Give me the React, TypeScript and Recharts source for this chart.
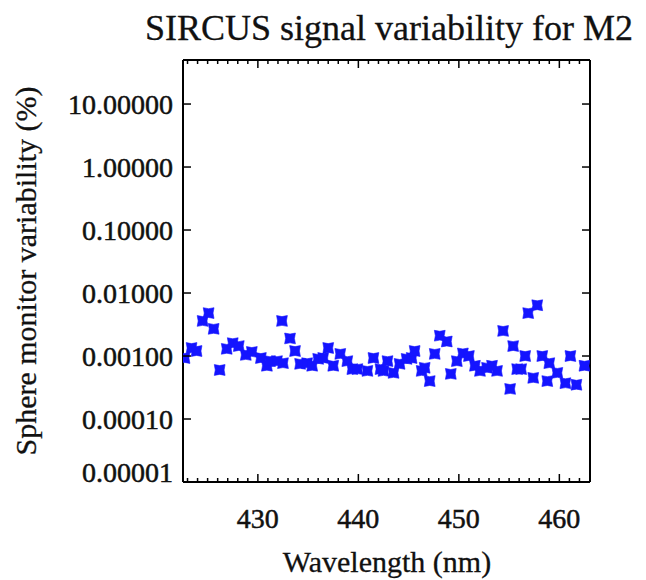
import React from "react";
import { ScatterChart, Scatter, XAxis, YAxis } from "recharts";

const wavelength = [
  422.7, 423.4, 423.9, 424.5, 425.1, 425.6, 426.2, 426.9, 427.5, 428.1,
  428.8, 429.4, 430.3, 430.9, 431.2, 431.9, 432.4, 432.5, 433.2, 433.7,
  434.2, 434.9, 435.4, 436.0, 436.5, 437.0, 437.5, 438.2, 438.9, 439.4,
  439.9, 440.9, 441.5, 442.2, 442.5, 442.9, 443.5, 444.1, 444.8, 445.3,
  445.6, 446.3, 446.6, 447.1, 447.6, 448.1, 448.8, 449.2, 449.8, 450.4,
  451.0, 451.6, 452.1, 452.8, 453.3, 453.8, 454.4, 455.1, 455.4, 455.8,
  456.2, 456.6, 456.9, 457.4, 457.8, 458.3, 458.8, 459.0, 459.8, 460.6,
  461.1, 461.7, 462.5,
];

const variability = [
  0.00093, 0.00134, 0.0012, 0.0036, 0.0048, 0.0027, 0.0006, 0.0013, 0.0016, 0.00144,
  0.00104, 0.00116, 0.00093, 0.0007, 0.00083, 0.00083, 0.0036, 0.00077, 0.0019, 0.0012,
  0.00075, 0.00077, 0.0007, 0.0009, 0.00093, 0.00134, 0.0007, 0.00108, 0.00083, 0.00062,
  0.00062, 0.00058, 0.00093, 0.00062, 0.00058, 0.00083, 0.00054, 0.00075, 0.0009, 0.00093,
  0.0012, 0.00058, 0.00065, 0.0004, 0.00108, 0.0021, 0.0017, 0.00052, 0.00083, 0.0011,
  0.001, 0.0007, 0.00058, 0.00065, 0.0007, 0.00058, 0.0025, 0.0003, 0.00144, 0.00062,
  0.00062, 0.001, 0.0048, 0.00045, 0.0064, 0.001, 0.0004, 0.00077, 0.00054, 0.00037,
  0.001, 0.00035, 0.0007,
];

const xTicks = [
  423, 424, 425, 426, 427, 428, 429, 430, 431, 432, 433, 434, 435, 436, 437, 438, 439, 440,
  441, 442, 443, 444, 445, 446, 447, 448, 449, 450, 451, 452, 453, 454, 455, 456, 457, 458,
  459, 460, 461, 462,
];
const xLabelTicks = [430, 440, 450, 460];
const yTicks = [0.00001, 0.0001, 0.001, 0.01, 0.1, 1, 10];

const title = "SIRCUS signal variability for M2";
const xTitle = "Wavelength (nm)";
const yTitle = "Sphere monitor variability (%)";

const data = wavelength.map((w, i) => ({ x: w, y: variability[i] }));

const FONT = "Liberation Serif, Tinos, Times New Roman, DejaVu Serif, serif";
const BLUE = "#1414ff";
const TXT = { fontFamily: FONT };
const INK = "#111";

const Marker = (props: any) => {
  const { cx, cy } = props;
  if (cx == null || cy == null) return <g />;
  const s = 5.4;
  const n = 1.0;
  const d = `M${cx - s},${cy - s} L${cx},${cy - s + n} L${cx + s},${cy - s} L${cx + s - n},${cy} L${cx + s},${cy + s} L${cx},${cy + s - n} L${cx - s},${cy + s} L${cx - s + n},${cy} Z`;
  return <path d={d} fill={BLUE} stroke={BLUE} strokeWidth={0.6} />;
};

const BottomTick = (props: any) => {
  const { x, y, payload } = props;
  const major = xLabelTicks.includes(payload.value);
  return (
    <g>
      <line x1={x} y1={y} x2={x} y2={y - (major ? 8 : 4)} stroke="#000" strokeWidth={1.5} />
      {major && (
        <text x={x} y={y + 46} textAnchor="middle" style={TXT} fontSize={28} fill={INK} stroke={INK} strokeWidth={0.5}>
          {payload.value}
        </text>
      )}
    </g>
  );
};

const TopTick = (props: any) => {
  const { x, y, payload } = props;
  const major = xLabelTicks.includes(payload.value);
  return <line x1={x} y1={y} x2={x} y2={y + (major ? 8 : 4)} stroke="#000" strokeWidth={1.5} />;
};

const LeftTick = (props: any) => {
  const { x, y, payload } = props;
  const v = payload.value as number;
  const isBottom = v === yTicks[0];
  return (
    <g>
      <line x1={x} y1={y} x2={x + 8} y2={y} stroke="#000" strokeWidth={1.5} />
      <text x={x - 10} y={isBottom ? y : y + 10} textAnchor="end" style={TXT} fontSize={28} fill={INK} stroke={INK} strokeWidth={0.5}>
        {v.toFixed(5)}
      </text>
    </g>
  );
};

const RightTick = (props: any) => {
  const { x, y } = props;
  return <line x1={x} y1={y} x2={x - 8} y2={y} stroke="#000" strokeWidth={1.5} />;
};

export default function App() {
  return (
    <div style={{ position: "absolute", left: 0, top: 0, width: 646, height: 580, background: "#fff" }}>
      <ScatterChart
        width={646}
        height={580}
        margin={{ top: 54, right: 50, bottom: 28, left: 63 }}
      >
        <XAxis
          xAxisId="bottom"
          type="number"
          dataKey="x"
          domain={[422.55, 463.05]}
          ticks={xTicks}
          interval={0}
          tick={<BottomTick />}
          tickSize={0}
          tickMargin={0}
          tickLine={false}
          axisLine={{ stroke: "#000", strokeWidth: 2 }}
          height={70}
          allowDataOverflow
        />
        <XAxis
          xAxisId="top"
          orientation="top"
          type="number"
          dataKey="x"
          domain={[422.55, 463.05]}
          ticks={xTicks}
          interval={0}
          tick={<TopTick />}
          tickSize={0}
          tickMargin={0}
          tickLine={false}
          axisLine={{ stroke: "#000", strokeWidth: 2 }}
          height={6}
          allowDataOverflow
        />
        <YAxis
          yAxisId="left"
          type="number"
          dataKey="y"
          scale="log"
          domain={[0.00001, 50]}
          ticks={yTicks}
          interval={0}
          tick={<LeftTick />}
          tickSize={0}
          tickMargin={0}
          tickLine={false}
          axisLine={{ stroke: "#000", strokeWidth: 2 }}
          width={120}
          allowDataOverflow
        />
        <YAxis
          yAxisId="right"
          orientation="right"
          type="number"
          dataKey="y"
          scale="log"
          domain={[0.00001, 50]}
          ticks={yTicks}
          interval={0}
          tick={<RightTick />}
          tickSize={0}
          tickMargin={0}
          tickLine={false}
          axisLine={{ stroke: "#000", strokeWidth: 2 }}
          width={6}
          allowDataOverflow
        />
        <Scatter
          xAxisId="top"
          yAxisId="right"
          data={data}
          shape={() => <g />}
          isAnimationActive={false}
        />
        <Scatter
          xAxisId="bottom"
          yAxisId="left"
          data={data}
          fill={BLUE}
          shape={<Marker />}
          isAnimationActive={false}
        />
      </ScatterChart>
      <svg
        width={646}
        height={580}
        style={{ position: "absolute", left: 0, top: 0, pointerEvents: "none" }}
      >
        <text x={389} y={40} textAnchor="middle" style={TXT} fontSize={36} fill={INK} stroke={INK} strokeWidth={0.3}>
          {title}
        </text>
        <text x={387} y={572} textAnchor="middle" style={TXT} fontSize={30} fill={INK} stroke={INK} strokeWidth={0.3}>
          {xTitle}
        </text>
        <text
          x={36}
          y={271}
          textAnchor="middle"
          style={TXT}
          fontSize={30}
          fill={INK}
          stroke={INK}
          strokeWidth={0.3}
          transform="rotate(-90 36 271)"
        >
          {yTitle}
        </text>
      </svg>
    </div>
  );
}
